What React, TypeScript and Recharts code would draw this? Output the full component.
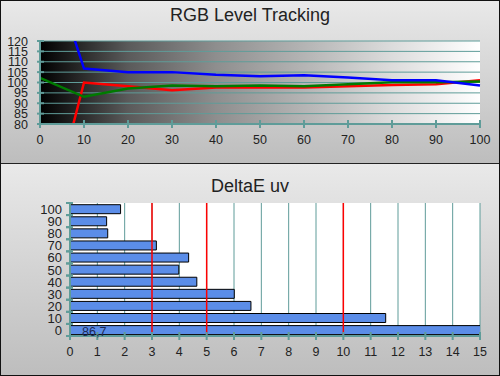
import React from 'react';
import {
  LineChart, Line, BarChart, Bar, XAxis, YAxis, CartesianGrid, ReferenceLine, LabelList,
} from 'recharts';

// RGB level tracking (stimulus % -> relative level)
const levels = [0, 10, 20, 30, 40, 50, 60, 70, 80, 90, 100];
const redLevels = [17.4, 100, 98.2, 96.3, 97.6, 97.6, 97.6, 98.2, 98.8, 99.2, 101.1];
const greenLevels = [102.2, 93.1, 97.1, 98.6, 98.2, 98.6, 98.2, 99.2, 100.1, 100.1, 100.5];
const blueLevels = [172, 106.7, 105, 105, 103.7, 103, 103.5, 102.4, 101.1, 101.1, 98.6];
const levelTicks = [80, 85, 90, 95, 100, 105, 110, 115, 120];

// DeltaE uv per stimulus level
const steps = ['0', '10', '20', '30', '40', '50', '60', '70', '80', '90', '100'];
const deltaE = [86.7, 11.55, 6.62, 6.01, 4.64, 3.98, 4.34, 3.16, 1.38, 1.34, 1.85];
const deTicks = [0, 1, 2, 3, 4, 5, 6, 7, 8, 9, 10, 11, 12, 13, 14, 15];
const limits = [3, 5, 10];

const FONT = '"Liberation Sans", Arial, sans-serif';
const TEAL = '#5f9c99';

const rgbData = levels.map((l, i) => ({
  level: l, r: redLevels[i], g: greenLevels[i], b: blueLevels[i],
}));
const deData = steps.map((s, i) => ({ step: s, de: deltaE[i] }));

const TOP = { left: 40, bottom: 124 };
const BOT = { left: 70, top: 39, bottom: 172 };

const TopXTick = ({ x, payload }: any) => (
  <g>
    <line x1={x} x2={x} y1={TOP.bottom - 4} y2={TOP.bottom + 4} stroke={TEAL} strokeWidth={2} />
    <text x={x} y={TOP.bottom + 20} textAnchor="middle" fontSize={12.5} fill="#222" fontFamily={FONT}>
      {payload.value}
    </text>
  </g>
);

const TopYTick = ({ y, payload }: any) => (
  <g>
    <line x1={TOP.left - 3} x2={TOP.left + 4} y1={y} y2={y} stroke={TEAL} strokeWidth={2} />
    <text x={28} y={y + 4.5} textAnchor="end" fontSize={12.5} fill="#222" fontFamily={FONT}>
      {payload.value}
    </text>
  </g>
);

const BotXTick = ({ x, payload }: any) => (
  <g>
    <line x1={x} x2={x} y1={BOT.bottom - 4} y2={BOT.bottom + 4} stroke={TEAL} strokeWidth={2} />
    <text x={x} y={BOT.bottom + 20} textAnchor="middle" fontSize={12.5} fill="#222" fontFamily={FONT}>
      {payload.value}
    </text>
  </g>
);

const band = (BOT.bottom - BOT.top) / steps.length;
const BotYTick = ({ y, payload }: any) => (
  <g>
    <line x1={BOT.left - 4} x2={BOT.left + 3} y1={y - band / 2} y2={y - band / 2} stroke={TEAL} strokeWidth={2} />
    <line x1={BOT.left - 4} x2={BOT.left + 3} y1={y + band / 2} y2={y + band / 2} stroke={TEAL} strokeWidth={2} />
    <text x={62} y={y + 5} textAnchor="end" fontSize={13} fill="#222" fontFamily={FONT}>
      {payload.value}
    </text>
  </g>
);

const BigLabel = ({ x, y, height, value }: any) => {
  if (value <= 15) return null;
  return (
    <text x={x + 12} y={y + height / 2 + 6} fontSize={12.5} fill="#1c2a55" fontFamily={FONT}>
      {String(value).replace('.', ',')}
    </text>
  );
};

const panelBg = 'linear-gradient(#e9e9e9, #bdbdbd)';

export default function App() {
  return (
    <div style={{
      position: 'fixed', left: 0, top: 0, width: 500, height: 376, boxSizing: 'border-box',
      border: '1px solid #111', background: '#ccc', overflow: 'hidden', fontFamily: FONT,
    }}>
      <div style={{ position: 'absolute', left: -1, top: -1, width: 500, height: 163, background: panelBg, borderBottom: '2px solid #222' }}>
        <div style={{ position: 'absolute', top: 5, width: 500, textAlign: 'center', fontSize: 18, color: '#222' }}>
          RGB Level Tracking
        </div>
        <LineChart width={500} height={163} data={rgbData} margin={{ top: 41, right: 20, bottom: 9, left: 0 }}>
          <defs>
            <linearGradient id="ramp" x1="0" y1="0" x2="1" y2="0">
              <stop offset="0" stopColor="#000" />
              <stop offset="0.06" stopColor="#1a1a1a" />
              <stop offset="0.2" stopColor="#5a5a5a" />
              <stop offset="0.4" stopColor="#8e8e8e" />
              <stop offset="0.6" stopColor="#b4b4b4" />
              <stop offset="0.8" stopColor="#dcdcdc" />
              <stop offset="1" stopColor="#ffffff" />
            </linearGradient>
          </defs>
          <CartesianGrid vertical={false} stroke={TEAL} fill="url(#ramp)" fillOpacity={1} />
          <XAxis dataKey="level" type="number" domain={[0, 100]} ticks={levels} height={30}
            stroke={TEAL} strokeWidth={2} tickLine={false} tick={<TopXTick />} interval={0} />
          <YAxis type="number" domain={[80, 120]} ticks={levelTicks} allowDataOverflow width={40}
            stroke={TEAL} strokeWidth={2} tickLine={false} tick={<TopYTick />} interval={0} />
          <Line dataKey="r" stroke="#ff0000" strokeWidth={2.5} dot={false} isAnimationActive={false} />
          <Line dataKey="g" stroke="#007a00" strokeWidth={2.5} dot={false} isAnimationActive={false} />
          <Line dataKey="b" stroke="#0000ff" strokeWidth={2.5} dot={false} isAnimationActive={false} />
        </LineChart>
      </div>
      <div style={{ position: 'absolute', left: -1, top: 163, width: 500, height: 213, background: panelBg }}>
        <div style={{ position: 'absolute', top: 12, width: 500, textAlign: 'center', fontSize: 18, color: '#222' }}>
          DeltaE uv
        </div>
        <BarChart width={500} height={212} data={deData} layout="vertical" barCategoryGap="14%"
          margin={{ top: BOT.top, right: 20, bottom: 10, left: 0 }}>
          <CartesianGrid horizontal={false} stroke={TEAL} fill="#fff" fillOpacity={1} />
          <XAxis type="number" domain={[0, 15]} ticks={deTicks} allowDataOverflow height={30}
            stroke={TEAL} strokeWidth={2} tickLine={false} tick={<BotXTick />} interval={0} />
          <YAxis type="category" dataKey="step" reversed width={70}
            stroke={TEAL} strokeWidth={2} tickLine={false} tick={<BotYTick />} interval={0} />
          <Bar dataKey="de" fill="#5b8de8" stroke="#000" strokeWidth={1} isAnimationActive={false}>
            <LabelList dataKey="de" content={<BigLabel />} />
          </Bar>
          {limits.map((v) => (
            <ReferenceLine key={v} x={v} stroke="#ff0000" strokeWidth={1.5} />
          ))}
        </BarChart>
      </div>
    </div>
  );
}
